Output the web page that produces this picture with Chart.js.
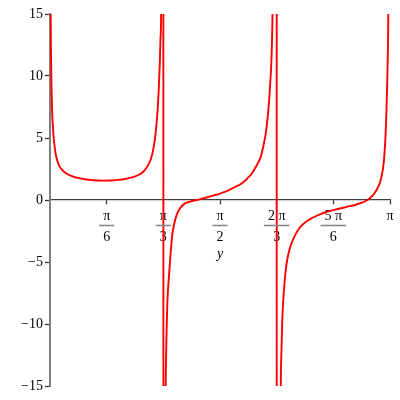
<!DOCTYPE html>
<html>
<head>
<meta charset="utf-8">
<script src="https://cdn.jsdelivr.net/npm/chart.js@4"></script>
<style>
    body { margin: 0; background: #fff; }
    canvas { display: block; }
</style>
</head>
<body>
<canvas id="plot" width="400" height="400"></canvas>
<script>
// x values are in units of pi; the jump points at pi/3 and 2pi/3 reproduce the plotted connector lines
const branch1X = [0.0009, 0.0021, 0.0029, 0.0044, 0.0059, 0.0079, 0.0103, 0.0132, 0.0162, 0.0191, 0.0235, 0.0294, 0.0368, 0.0471, 0.0588, 0.0706, 0.0824, 0.1029, 0.1265, 0.1529, 0.1765, 0.2000, 0.2206, 0.2382, 0.2529, 0.2647, 0.2750, 0.2838, 0.2912, 0.2971, 0.3024, 0.3068, 0.3103, 0.3138, 0.3171, 0.3200, 0.3229, 0.3250, 0.3268, 0.3303, 0.3333];
const branch1Y = [30, 15, 12, 9.2, 7.5, 6.2, 5.2, 4.4, 3.8, 3.4, 3.0, 2.65, 2.4, 2.15, 1.98, 1.87, 1.78, 1.67, 1.6, 1.56, 1.57, 1.62, 1.69, 1.8, 1.93, 2.08, 2.3, 2.6, 2.95, 3.35, 3.9, 4.6, 5.3, 6.3, 7.5, 9, 11, 13, 15, 40, 60];

const branch2X = [0.3336, 0.3371, 0.3403, 0.3426, 0.3450, 0.3476, 0.3500, 0.3529, 0.3559, 0.3597, 0.3647, 0.3726, 0.3824, 0.3971, 0.4118, 0.4315, 0.4609, 0.4794, 0.5000, 0.5235, 0.5441, 0.5588, 0.5735, 0.5824, 0.5926, 0.6059, 0.6200, 0.6279, 0.6347, 0.6403, 0.6447, 0.6479, 0.6506, 0.6529, 0.6544, 0.6603, 0.6667];
const branch2Y = [-60, -30, -15, -11, -8.4, -7, -6.1, -5.0, -3.9, -2.8, -2.0, -1.2, -0.67, -0.27, -0.13, 0, 0.2, 0.35, 0.52, 0.76, 1.05, 1.25, 1.55, 1.8, 2.1, 2.7, 3.5, 4.4, 5.4, 6.7, 8.1, 9.5, 10.8, 12.8, 15, 35, 60];

const branch3X = [0.6670, 0.6759, 0.6788, 0.6809, 0.6832, 0.6862, 0.6897, 0.6932, 0.6985, 0.7044, 0.7109, 0.7206, 0.7353, 0.7529, 0.7706, 0.7941, 0.8147, 0.8382, 0.8735, 0.8971, 0.9176, 0.9338, 0.9471, 0.9559, 0.9632, 0.9691, 0.9735, 0.9779, 0.9815, 0.9844, 0.9868, 0.9891, 0.9912, 0.9932, 0.9950, 0.9985];
const branch3Y = [-60, -30, -15, -12, -9.7, -8, -6.7, -5.7, -4.7, -4.0, -3.45, -2.85, -2.2, -1.75, -1.45, -1.15, -0.95, -0.78, -0.55, -0.4, -0.22, 0, 0.3, 0.6, 0.95, 1.3, 1.7, 2.3, 3.0, 4.0, 5.2, 6.8, 8.8, 11.2, 15, 40];

const xTickValues = [1 / 6, 2 / 6, 3 / 6, 4 / 6, 5 / 6, 1];
const xTickLabels = [['π', '6'], ['π', '3'], ['π', '2'], ['2 π', '3'], ['5 π', '6'], 'π'];
const yTickValues = [-15, -10, -5, 0, 5, 10, 15];
const xTitle = 'y';

const serif = '"Liberation Serif", "DejaVu Serif", serif';

const points = [];
[[branch1X, branch1Y], [branch2X, branch2Y], [branch3X, branch3Y]].forEach(([xs, ys]) => {
    xs.forEach((x, i) => points.push({ x: x, y: ys[i] }));
});

// draws the fraction bars under the pi labels and the italic axis name
const fractionBars = {
    id: 'fractionBars',
    afterDraw(chart) {
        const ctx = chart.ctx;
        const xs = chart.scales.x;
        const y0 = chart.scales.y.getPixelForValue(0);
        ctx.save();
        ctx.font = '14px ' + serif;
        ctx.strokeStyle = '#888888';
        ctx.lineWidth = 1.6;
        xTickValues.forEach((v, i) => {
            const label = xTickLabels[i];
            if (!Array.isArray(label)) return;
            const px = xs.getPixelForValue(v);
            const w = ctx.measureText(label[0]).width + 8;
            ctx.beginPath();
            ctx.moveTo(px - w / 2, y0 + 25.5);
            ctx.lineTo(px + w / 2, y0 + 25.5);
            ctx.stroke();
        });
        ctx.fillStyle = '#000';
        ctx.font = 'italic 14px ' + serif;
        ctx.textAlign = 'center';
        ctx.textBaseline = 'middle';
        ctx.fillText(xTitle, xs.getPixelForValue(0.5), y0 + 54);
        ctx.restore();
    }
};

new Chart(document.getElementById('plot'), {
    type: 'line',
    data: {
        datasets: [{
            data: points,
            borderColor: '#ff0000',
            borderWidth: 1.9,
            pointRadius: 0,
            cubicInterpolationMode: 'monotone',
            fill: false
        }]
    },
    options: {
        responsive: false,
        animation: false,
        layout: { padding: { top: 14, bottom: 14, left: 0, right: 10 } },
        plugins: { legend: { display: false }, tooltip: { enabled: false } },
        scales: {
            x: {
                type: 'linear',
                min: 0,
                max: 1,
                position: { y: 0 },
                afterBuildTicks: axis => { axis.ticks = xTickValues.map(v => ({ value: v })); },
                ticks: {
                    autoSkip: false,
                    maxRotation: 0,
                    padding: 1,
                    color: '#000',
                    font: { family: serif, size: 14, lineHeight: 1.55 },
                    callback: (value, index) => xTickLabels[index]
                },
                grid: { drawOnChartArea: false, tickLength: 4, tickColor: '#333', tickWidth: 1.3 },
                border: { color: '#404040', width: 1.3 }
            },
            y: {
                min: -15,
                max: 15,
                afterBuildTicks: axis => { axis.ticks = yTickValues.map(v => ({ value: v })); },
                afterFit: axis => { axis.width = 50; },
                ticks: {
                    padding: 2,
                    color: '#000',
                    font: { family: serif, size: 14 },
                    callback: v => (v < 0 ? '\u2212' + Math.abs(v) : String(v))
                },
                grid: { drawOnChartArea: false, tickLength: 5, tickColor: '#333', tickWidth: 1.3 },
                border: { color: '#808080', width: 2 }
            }
        }
    },
    plugins: [fractionBars]
});
</script>
</body>
</html>
